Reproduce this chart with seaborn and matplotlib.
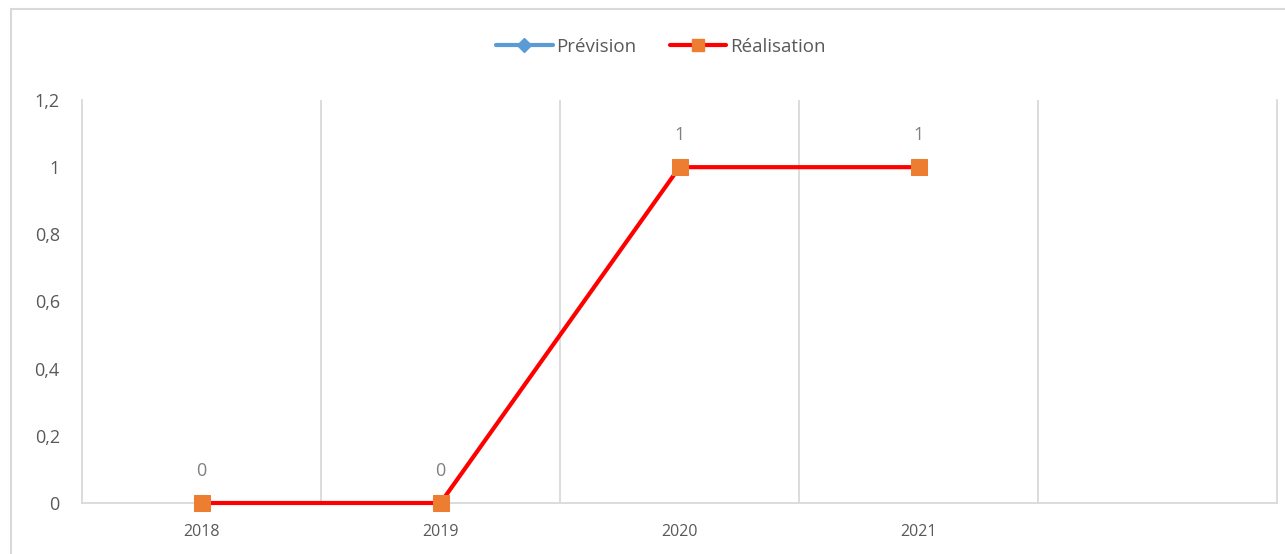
import numpy as np
import pandas as pd
import matplotlib
matplotlib.use('Agg')
import matplotlib.pyplot as plt
import seaborn as sns
from matplotlib.lines import Line2D
from matplotlib.patches import Rectangle
from matplotlib.ticker import FuncFormatter

# donnees
annees = ['2018', '2019', '2020', '2021', '']
prevision = [np.nan, np.nan, np.nan, np.nan, np.nan]
realisation = [0, 0, 1, 1, np.nan]

df = pd.DataFrame({'pos': range(len(annees)), 'annee': annees,
                   'Prévision': prevision, 'Réalisation': realisation})

sns.set_style('white')
plt.rcParams['font.family'] = ['Open Sans', 'DejaVu Sans']

fig = plt.figure(figsize=(12.85, 5.54), dpi=100)
ax = fig.add_axes([82/1285, 1 - 503/554, (1277 - 82)/1285, (503 - 100)/554])

# cadre du graphique
fig.patches.append(Rectangle((11/1285, -0.1), 1.2, 1 - 9.5/554 + 0.1, transform=fig.transFigure,
                             fill=False, edgecolor='#d9d9d9', linewidth=1.5))

sns.lineplot(data=df, x='pos', y='Réalisation', ax=ax, color='#FF0000', linewidth=3,
             marker='s', markersize=12, markerfacecolor='#ED7D31', markeredgecolor='#ED7D31',
             zorder=3, clip_on=False)

# etiquettes de donnees
for i, v in enumerate(realisation):
    if not np.isnan(v):
        ax.text(i, v + 0.095, f'{v:g}', ha='center', va='center', fontsize=13, color='#808080')

ax.set_xlim(-0.5, len(annees) - 0.5)
ax.set_ylim(0, 1.2)
ax.set_xticks(range(len(annees)))
ax.set_xticklabels(annees)
ax.set_yticks(np.arange(0, 1.21, 0.2))
ax.yaxis.set_major_formatter(FuncFormatter(lambda x, _: f'{x:g}'.replace('.', ',')))
ax.set_xlabel('')
ax.set_ylabel('')

for b in np.arange(0.5, len(annees) - 0.5, 1):
    ax.axvline(b, color='#d9d9d9', linewidth=1.3, zorder=0)

ax.spines['top'].set_visible(False)
for s in ['left', 'right', 'bottom']:
    ax.spines[s].set_color('#d9d9d9')
    ax.spines[s].set_linewidth(1.3)

ax.tick_params(axis='y', length=0, pad=16, labelsize=13, labelcolor='#595959')
ax.tick_params(axis='x', length=0, pad=15, labelsize=11.5, labelcolor='#595959')

handles = [Line2D([], [], color='#5B9BD5', linewidth=3, marker='D', markersize=7,
                  markerfacecolor='#5B9BD5', markeredgecolor='#5B9BD5'),
           Line2D([], [], color='#FF0000', linewidth=3, marker='s', markersize=9,
                  markerfacecolor='#ED7D31', markeredgecolor='#ED7D31')]
fig.legend(handles, ['Prévision', 'Réalisation'], loc='center', bbox_to_anchor=(661/1285, 1 - 47/554),
           ncol=2, frameon=False, fontsize=13.5, labelcolor='#595959', handlelength=3.0,
           handletextpad=0.2, columnspacing=1.8)

fig.savefig('out.png', dpi=100)
